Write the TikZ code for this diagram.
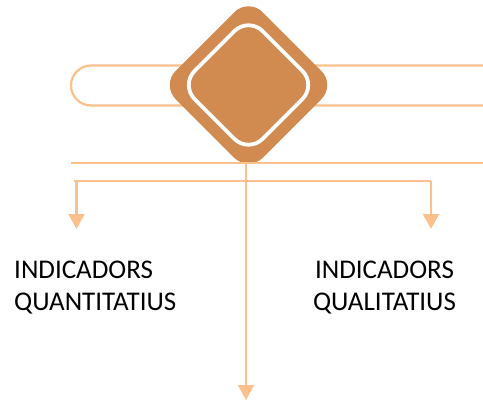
\documentclass[tikz,border=0pt]{standalone}
\usepackage{fontspec}
\setmainfont{Carlito}
\usetikzlibrary{arrows.meta}
\definecolor{peach}{HTML}{FBC08C}
\definecolor{clay}{HTML}{D18B51}
\tikzset{
  x=1pt,y=-1pt,
  rule/.style={draw=peach,line width=2.2pt},
  pointer/.style={rule,-{Triangle[length=15pt,width=16pt]}},
  label/.style={font=\fontsize{27pt}{32pt}\selectfont,text=black,inner sep=0pt,align=left,anchor=north west},
}
\begin{document}
\begin{tikzpicture}
\useasboundingbox (0,0) rectangle (483,402);
\coordinate (pillTR) at (483,65.5);
\coordinate (pillBR) at (483,105.5);
\coordinate (pillTL) at (91,65.5);
\coordinate (pillBL) at (91,105.5);
\draw[rule] (pillTR) -- (pillTL) arc[start angle=270,end angle=90,radius=20] -- (pillBR);
\fill[clay,rounded corners=20pt] (248.5,-2) -- (335.5,85) -- (248.5,172) -- (161.5,85) -- cycle;
\draw[white,line width=3.8pt,rounded corners=20pt] (248.5,17) -- (316.5,85) -- (248.5,153) -- (180.5,85) -- cycle;
\coordinate (ruleL) at (71,163.2);
\coordinate (ruleR) at (483,163.2);
\coordinate (trunk) at (246,163.2);
\coordinate (barL) at (74,180.8);
\coordinate (barR) at (431,180.8);
\coordinate (dropL) at (76.5,180.8);
\coordinate (endL) at (76.5,229);
\coordinate (endR) at (431,229);
\coordinate (endM) at (246,400);
\draw[rule] (ruleL) -- (ruleR);
\draw[rule] (barL) -- (barR);
\draw[pointer] (dropL) -- (endL);
\draw[pointer] (barR) -- (endR);
\draw[pointer] (trunk) -- (endM);
\node[label] (quant) at (14,261) {INDICADORS\\QUANTITATIUS};
\node[label,align=center,anchor=north] (qual) at (384.5,261) {INDICADORS\\QUALITATIUS};
\end{tikzpicture}
\end{document}
